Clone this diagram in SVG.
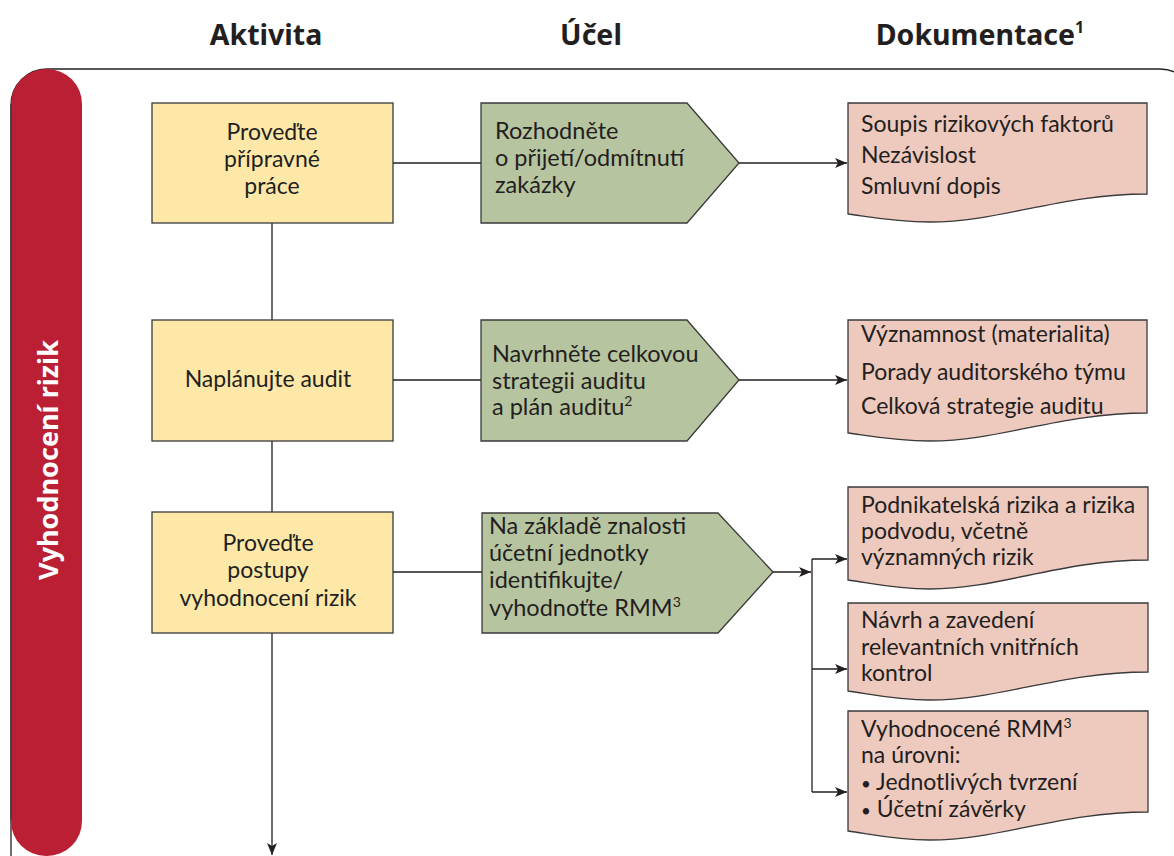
<svg xmlns="http://www.w3.org/2000/svg" width="1174" height="856" viewBox="0 0 1174 856">
<defs>
<style>
.hdr{font-family:"Noto Sans",sans-serif;font-weight:bold;font-size:28.5px;fill:#231f20}
.t{font-family:Lato,sans-serif;font-size:23px;fill:#231f20}
.s{font-family:Lato,sans-serif;font-size:23px;fill:#231f20}
.g{font-family:Lato,sans-serif;font-size:23.5px;fill:#231f20}
.sup{font-size:14px}
.bul{font-size:17px}
.ln{stroke:#231f20;stroke-width:1.3;fill:none}
.yel{fill:#fde8a8;stroke:#3a3a3a;stroke-width:1.3}
.grn{fill:#b7c4a0;stroke:#3a3a3a;stroke-width:1.3}
.doc{fill:#eec9be;stroke:#3a3a3a;stroke-width:1.3}
</style>
<marker id="arr" viewBox="0 0 12 10" refX="12" refY="5" markerWidth="12" markerHeight="10" markerUnits="userSpaceOnUse" orient="auto">
<path d="M0,0 L12,5 L0,10 L3,5 Z" fill="#231f20"/>
</marker>
</defs>
<rect width="1174" height="856" fill="#fff"/>
<g id="headers">
<text class="hdr" x="266" y="45" text-anchor="middle">Aktivita</text>
<text class="hdr" x="591" y="45" text-anchor="middle">Účel</text>
<text class="hdr" x="980" y="45" text-anchor="middle">Dokumentace<tspan font-size="16" dy="-12">1</tspan></text>
</g>
<g id="frame">
<rect x="11" y="69" width="1185" height="820" rx="36" fill="none" stroke="#231f20" stroke-width="1.3"/>
<rect x="11" y="69" width="71" height="787" rx="35" fill="#ba1f33"/>
<path d="M11,104 V820" stroke="#3a3a3a" stroke-width="1.3"/>
<text x="47" y="460" transform="rotate(-90 47 460)" text-anchor="middle" dominant-baseline="central" font-family="Noto Sans,sans-serif" font-weight="bold" font-size="27" fill="#fff">Vyhodnocení rizik</text>
</g>
<g id="connectors">
<path class="ln" d="M272,223 V320 M272,441 V512"/>
<path class="ln" d="M272,633 V855" marker-end="url(#arr)"/>
<path class="ln" d="M393,163 H481 M393,380 H481 M393,572 H482"/>
<path class="ln" d="M739,163 H847" marker-end="url(#arr)"/>
<path class="ln" d="M739,380 H847" marker-end="url(#arr)"/>
<path class="ln" d="M773,572 H811" marker-end="url(#arr)"/>
<path class="ln" d="M812,559 V792"/>
<path class="ln" d="M812,559 H847" marker-end="url(#arr)"/>
<path class="ln" d="M812,669 H847" marker-end="url(#arr)"/>
<path class="ln" d="M812,792 H847" marker-end="url(#arr)"/>
</g>
<g id="a1">
<rect class="yel" x="152" y="103" width="241" height="120"/>
<text class="t" text-anchor="middle"><tspan x="272" y="140">Proveďte</tspan><tspan x="272" y="167">přípravné</tspan><tspan x="272" y="194">práce</tspan></text>
</g>
<g id="a2">
<rect class="yel" x="152" y="320" width="241" height="121"/>
<text class="t" text-anchor="middle" x="268" y="387">Naplánujte audit</text>
</g>
<g id="a3">
<rect class="yel" x="152" y="512" width="241" height="121"/>
<text class="t" text-anchor="middle"><tspan x="268" y="551">Proveďte</tspan><tspan x="268" y="578">postupy</tspan><tspan x="268" y="606">vyhodnocení rizik</tspan></text>
</g>
<g id="u1">
<path class="grn" d="M481,103 H687 L739,163 L687,223 H481 Z"/>
<text class="g"><tspan x="495" y="139">Rozhodněte</tspan><tspan x="495" y="166">o přijetí/odmítnutí</tspan><tspan x="495" y="193">zakázky</tspan></text>
</g>
<g id="u2">
<path class="grn" d="M481,320 H687 L739,380 L687,441 H481 Z"/>
<text class="g"><tspan x="492" y="362">Navrhněte celkovou</tspan><tspan x="492" y="389">strategii auditu</tspan><tspan x="492" y="415">a plán auditu<tspan class="sup" dy="-9">2</tspan></tspan></text>
</g>
<g id="u3">
<path class="grn" d="M482,513 H718 L773,572 L718,633 H482 Z"/>
<text class="g"><tspan x="489" y="534">Na základě znalosti</tspan><tspan x="489" y="561">účetní jednotky</tspan><tspan x="489" y="588">identifikujte/</tspan><tspan x="489" y="616">vyhodnoťte RMM<tspan class="sup" dy="-9">3</tspan></tspan></text>
</g>
<g id="d1">
<path class="doc" d="M848,103 H1147 V194 C1060,194 1000,222 930,222 C895,222 870,217 848,214 Z"/>
<text class="s"><tspan x="861" y="132">Soupis rizikových faktorů</tspan><tspan x="861" y="163">Nezávislost</tspan><tspan x="861" y="194">Smluvní dopis</tspan></text>
</g>
<g id="d2">
<path class="doc" d="M848,320 H1147 V413 C1060,413 1000,441 930,441 C895,441 870,436 848,433 Z"/>
<text class="s"><tspan x="861" y="342">Významnost (materialita)</tspan><tspan x="861" y="380">Porady auditorského týmu</tspan><tspan x="861" y="414">Celková strategie auditu</tspan></text>
</g>
<g id="d3">
<path class="doc" d="M848,487 H1148 V560 C1060,560 1000,589 930,589 C895,589 870,583 848,580 Z"/>
<text class="t"><tspan x="861" y="513">Podnikatelská rizika a rizika</tspan><tspan x="861" y="539">podvodu, včetně</tspan><tspan x="861" y="565">významných rizik</tspan></text>
</g>
<g id="d4">
<path class="doc" d="M848,603 H1148 V672 C1060,672 1000,700 930,700 C895,700 870,694 848,691 Z"/>
<text class="t"><tspan x="861" y="628">Návrh a zavedení</tspan><tspan x="861" y="655">relevantních vnitřních</tspan><tspan x="861" y="681">kontrol</tspan></text>
</g>
<g id="d5">
<path class="doc" d="M848,711 H1148 V812 C1060,812 1000,840 930,840 C895,840 870,834 848,831 Z"/>
<text class="t"><tspan x="861" y="737">Vyhodnocené RMM<tspan class="sup" dy="-9">3</tspan></tspan><tspan x="861" y="763">na úrovni:</tspan><tspan x="861" y="790"><tspan class="bul">•</tspan> Jednotlivých tvrzení</tspan><tspan x="861" y="817"><tspan class="bul">•</tspan> Účetní závěrky</tspan></text>
</g>
</svg>
